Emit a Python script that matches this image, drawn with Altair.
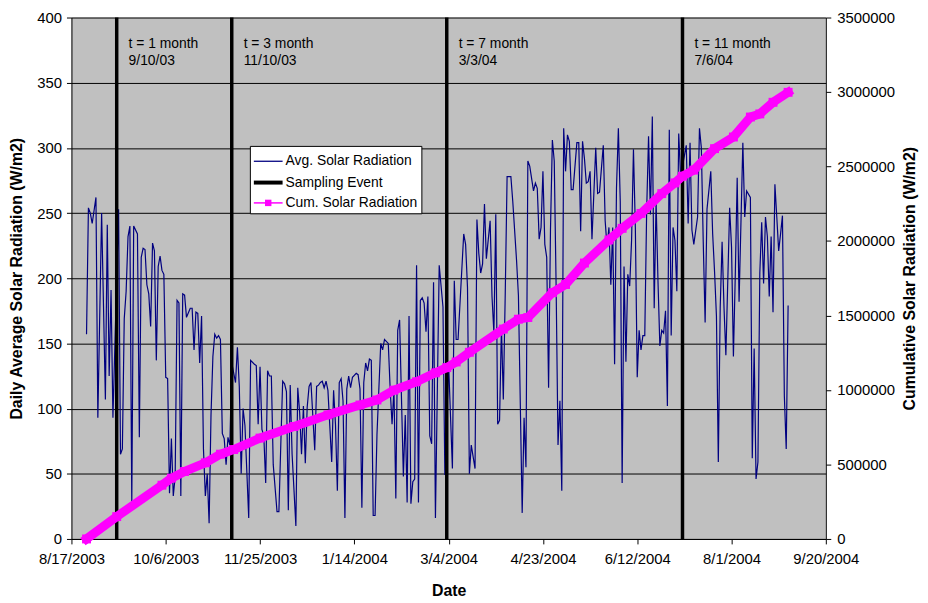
import altair as alt
import pandas as pd

START = "2003-08-17"

# Daily average solar radiation (W/m2): day offsets from START and values
DAYS = [8, 9, 10, 11, 13, 14, 16, 18, 19, 20, 21, 22, 25, 26, 27, 28, 29, 30, 31, 32,
        33, 35, 36, 37, 38, 39, 40, 41, 42, 43, 44, 45, 46, 47, 48, 49, 50, 51, 52, 53,
        54, 55, 56, 57, 58, 59, 60, 61, 63, 64, 65, 66, 67, 68, 69, 70, 71, 72, 73, 74,
        75, 76, 77, 78, 79, 80, 81, 82, 83, 84, 85,
        87, 88, 89, 90, 91, 92, 94, 95, 97, 98, 99, 100, 101, 102, 103, 104, 105, 106, 107, 109,
        110, 111, 112, 113, 114, 115, 116, 117, 119, 120, 121, 122, 123, 124, 125, 126, 127, 129, 130, 131,
        132, 133, 134, 135, 136, 138, 139, 140, 141, 142, 143, 144, 145, 146, 147, 148, 149, 151, 152, 153,
        154, 155, 156, 157, 158, 159, 160, 161, 162, 164, 165, 166, 168, 169, 170, 171, 172, 173, 174, 176,
        177, 178, 179, 180, 181, 182, 183, 184, 185, 186, 187, 188, 189, 190, 191, 192, 193, 195, 197, 198,
        200, 202, 203, 204, 205, 208, 209, 210, 211, 212, 214, 215, 216, 217, 218, 219, 220, 222, 223, 224,
        225, 226, 227, 228, 229, 230, 231, 233, 234, 236, 237, 239, 240, 241, 242, 243, 245, 246, 247, 248,
        249, 250, 251, 252, 253, 254, 255, 256, 257, 258, 259, 260, 261, 262, 263, 264, 265, 266, 268, 269,
        270, 271, 272, 273, 274, 275, 276, 278, 279, 280, 282, 283, 284, 285, 286, 287, 288, 289, 290, 291,
        292, 293, 294, 295, 296, 297, 298, 299, 300, 301, 302, 303, 304, 305, 306, 307, 308, 309, 310, 311,
        312, 313, 314, 315, 316, 317, 318, 319, 320, 321, 322, 323,
        326, 327, 328, 329, 330, 332, 333, 334, 335, 336, 337, 339, 340, 341, 342, 343, 344, 345, 346, 347,
        349, 350, 351, 352, 353, 354, 356, 357, 358, 360, 361, 362, 363, 364, 365, 366, 367, 368, 369, 370,
        371, 372, 373, 374, 375, 376, 377, 378, 379, 380]
SOLAR = [157, 254, 250, 242, 262, 93, 250, 107, 241, 125, 191, 93, 253, 65, 69, 169, 190, 232, 240, 27,
         240, 234, 78, 216, 223, 222, 195, 188, 163, 227, 221, 137, 209, 217, 206, 203, 124, 123, 35, 77,
         33, 48, 183, 181, 33, 188, 187, 170, 177, 177, 145, 174, 173, 135, 171, 69, 33, 50, 12, 95,
         140, 157, 154, 156, 153, 81, 77, 57, 78, 72, 135,
         120, 147, 117, 50, 100, 87, 16, 137, 134, 133, 88, 132, 84, 79, 43, 129, 125, 125, 57, 21,
         21, 72, 121, 119, 113, 22, 118, 65, 10, 116, 97, 65, 102, 58, 101, 117, 120, 68, 117, 118,
         120, 121, 116, 121, 114, 59, 114, 88, 37, 120, 123, 106, 16, 115, 125, 116, 124, 127, 126, 115,
         24, 120, 135, 129, 138, 137, 18, 18, 80, 150, 145, 153, 150, 115, 88, 115, 31, 160, 168, 48,
         95, 28, 171, 27, 44, 46, 210, 28, 183, 185, 181, 159, 186, 79, 73, 197, 16, 210, 178, 49,
         134, 54, 198, 153, 153, 234, 226, 193, 50, 72, 54, 245, 219, 204, 211, 257, 215, 244, 186, 158,
         249, 88, 91, 163, 107, 187, 278, 278, 259, 214, 187, 20, 93, 55, 290, 286, 267, 273, 269, 230,
         239, 282, 226, 216, 116, 237, 306, 290, 193, 72, 106, 37, 315, 282, 310, 305, 268, 268, 304, 304,
         236, 305, 292, 273, 274, 282, 230, 300, 265, 266, 302, 244, 224, 239, 195, 239, 134, 269, 315, 259,
         43, 209, 136, 203, 194, 229, 299, 239, 124, 160, 145, 156, 156, 252, 309, 249, 324, 177, 259, 198,
         148, 160, 158, 175, 102, 314, 156, 239, 229, 190, 311, 278,
         302, 242, 304, 237, 226, 247, 315, 300, 228, 166, 253, 282, 234, 205, 171, 59, 178, 228, 178, 141,
         254, 224, 140, 203, 277, 182, 304, 247, 267, 262, 62, 146, 46, 59, 204, 243, 196, 247, 232, 186,
         232, 174, 272, 247, 221, 234, 248, 110, 69, 179]

# Cumulative solar radiation
CUM_DAYS = [8, 24, 48, 53, 60, 71, 79, 86, 100, 118, 136, 153, 162, 171, 183, 193, 199, 204, 211, 229,
            237, 242, 255, 262, 272, 285, 292, 302, 313, 320, 324, 330, 341, 351, 360, 365, 372, 380]
CUM_VALUES = [0, 150000, 361000, 408000, 453000, 511000, 569000, 600000, 677000, 755000,
              833000, 899000, 933000, 999000, 1055000, 1115000, 1150000, 1188000, 1253000, 1409000,
              1475000, 1486000, 1653000, 1708000, 1852000, 2007000, 2085000, 2185000, 2318000, 2390000,
              2435000, 2476000, 2620000, 2698000, 2832000, 2853000, 2931000, 2998000]

EVENT_DATES = ["2003-09-10", "2003-11-10", "2004-03-03", "2004-07-06"]
EVENT_T = ["t = 1 month", "t = 3 month", "t = 7 month", "t = 11 month"]
EVENT_LABELS = ["9/10/03", "11/10/03", "3/3/04", "7/6/04"]

X_TICKS = ["2003-08-17", "2003-10-06", "2003-11-25", "2004-01-14", "2004-03-04",
           "2004-04-23", "2004-06-12", "2004-08-01", "2004-09-20"]
Y_LEFT_TICKS = [0, 50, 100, 150, 200, 250, 300, 350, 400]
Y_RIGHT_TICKS = [0, 500000, 1000000, 1500000, 2000000, 2500000, 3000000, 3500000]
LEGEND_LABELS = ["Avg. Solar Radiation", "Sampling Event", "Cum. Solar Radiation"]

assert len(DAYS) == len(SOLAR)
assert len(CUM_DAYS) == len(CUM_VALUES)

FONT = "Arial, Liberation Sans, sans-serif"
W, H = 761, 526

start = pd.Timestamp(START)


def to_iso(offsets):
    return [(start + pd.Timedelta(days=int(d))).strftime("%Y-%m-%d") for d in offsets]


def ms(s):
    return int(pd.Timestamp(s, tz="UTC").value // 10**6)


daily = pd.DataFrame({"date": to_iso(DAYS), "solar": SOLAR})
cum = pd.DataFrame({"date": to_iso(CUM_DAYS), "cum": CUM_VALUES})
events = pd.DataFrame({"date": EVENT_DATES, "t": EVENT_T, "lab": EVENT_LABELS})

x_scale = alt.Scale(type="utc", domain=[ms(X_TICKS[0]), ms(X_TICKS[-1])], nice=False)
x_axis = alt.Axis(
    values=[ms(s) for s in X_TICKS],
    labelExpr="utcFormat(datum.value, '%-m/%-d/%Y')",
    labelOverlap=False, labelFlush=False, labelBound=False,
    title="Date", grid=False, tickSize=5, labelPadding=8,
    titleBaseline="middle", titleY=52,
)
X = alt.X("date:T", scale=x_scale, axis=x_axis)

daily_line = alt.Chart(daily).mark_line(color="#000080", strokeWidth=1.2).encode(
    x=X,
    y=alt.Y("solar:Q", scale=alt.Scale(domain=[0, 400], nice=False),
            axis=alt.Axis(orient="left", values=Y_LEFT_TICKS,
                          title="Daily Average Solar Radiation (W/m2)",
                          grid=True, gridColor="black", gridWidth=1, gridOpacity=1,
                          tickSize=5, labelPadding=5,
                          titleBaseline="middle", titleX=-55, titleY=H / 2)),
)

rules = alt.Chart(events).mark_rule(color="black", strokeWidth=3.5).encode(
    x=X, y=alt.value(0), y2=alt.value(H)
)
text1 = alt.Chart(events).mark_text(align="left", baseline="middle", fontSize=14, font=FONT,
                                    color="black", dx=12).encode(
    x=X, y=alt.value(27), text="t:N")
text2 = alt.Chart(events).mark_text(align="left", baseline="middle", fontSize=14, font=FONT,
                                    color="black", dx=12).encode(
    x=X, y=alt.value(44), text="lab:N")

cum_y = alt.Y("cum:Q", scale=alt.Scale(domain=[0, 3500000], nice=False),
              axis=alt.Axis(orient="right", values=Y_RIGHT_TICKS, format="d",
                            title="Cumulative Solar Radiation (W/m2)",
                            grid=False, tickSize=5, labelPadding=6,
                            titleAngle=270, titleBaseline="middle",
                            titleX=84, titleY=H / 2))
cum_line = alt.Chart(cum).mark_line(color="#FF00FF", strokeWidth=9, strokeJoin="round",
                                     strokeCap="square").encode(x=X, y=cum_y)
cum_pts = alt.Chart(cum).mark_square(color="#FF00FF", size=81, opacity=1).encode(x=X, y=cum_y)
cum_layer = alt.layer(cum_line, cum_pts)

# Legend box (drawn as marks inside the plot)
one = pd.DataFrame({"k": [0]})
leg_box = alt.Chart(one).mark_rect(fill="white", stroke="black", strokeWidth=1).encode(
    x=alt.value(180.5), x2=alt.value(353.5), y=alt.value(130), y2=alt.value(198))
ROW_Y = [145, 166.5, 187]
leg_sym1 = alt.Chart(one).mark_rule(color="#000080", strokeWidth=1.3).encode(
    x=alt.value(184), x2=alt.value(213), y=alt.value(ROW_Y[0]))
leg_sym2 = alt.Chart(one).mark_rule(color="black", strokeWidth=4).encode(
    x=alt.value(184), x2=alt.value(213), y=alt.value(ROW_Y[1]))
leg_sym3 = alt.Chart(one).mark_rule(color="#FF00FF", strokeWidth=1.5).encode(
    x=alt.value(184), x2=alt.value(213), y=alt.value(ROW_Y[2]))
leg_sq = alt.Chart(one).mark_square(color="#FF00FF", size=42, opacity=1).encode(
    x=alt.value(198.5), y=alt.value(ROW_Y[2]))
leg_texts = [
    alt.Chart(pd.DataFrame({"label": [lab]})).mark_text(
        align="left", baseline="middle", fontSize=14, font=FONT, color="black").encode(
        x=alt.value(216), y=alt.value(yy), text="label:N")
    for lab, yy in zip(LEGEND_LABELS, ROW_Y)
]

chart = alt.layer(
    daily_line, rules, text1, text2, cum_layer,
    leg_box, leg_sym1, leg_sym2, leg_sym3, leg_sq, *leg_texts
).resolve_scale(y="independent").properties(
    width=W, height=H,
    autosize=alt.AutoSizeParams(type="none"),
    padding={"left": 64, "top": 7, "right": 95, "bottom": 62},
    background="white",
).configure_view(
    fill="#C0C0C0", strokeWidth=0
).configure_axis(
    labelFont=FONT, titleFont=FONT, labelFontSize=15, titleFontSize=16,
    titleFontWeight="bold", labelColor="black", titleColor="black",
    domainColor="black", tickColor="black", domainWidth=1, tickWidth=1,
)

chart.save("out.html", embed_options={"renderer": "svg", "actions": False})
